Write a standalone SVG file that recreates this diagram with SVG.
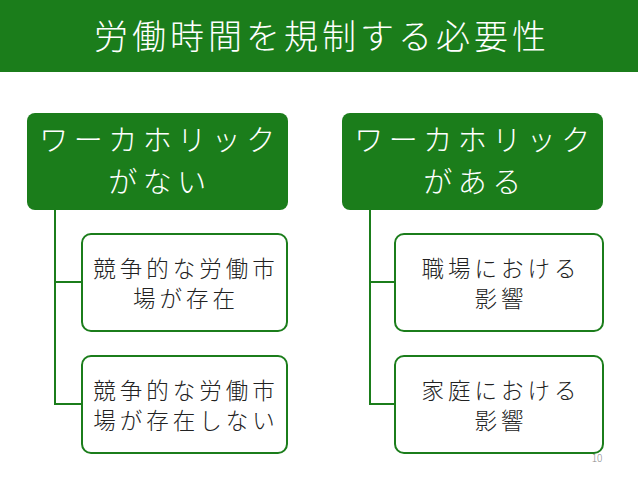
<svg xmlns="http://www.w3.org/2000/svg" width="638" height="479" viewBox="0 0 638 479">
<style>
text{font-family:"Noto Sans CJK JP","Noto Sans",sans-serif;font-weight:300;text-anchor:middle}
.t{fill:#fff;font-size:29px;letter-spacing:5.5px}
.c{fill:#222;font-size:22.5px;letter-spacing:4px}
.p{fill:#1b7d1b}
.w{fill:#fff;stroke:#1b7d1b;stroke-width:2}
.l{stroke:#1b7d1b;stroke-width:2;fill:none}
</style>
<rect width="638" height="479" fill="#fff"/>
<g id="title"><rect class="p" x="0" y="0" width="638" height="72"/><text class="t" x="322" y="49" style="font-size:34px;letter-spacing:4px">労働時間を規制する必要性</text></g>
<g id="connectors">
<path class="l" d="M55 210V404H82M55 282H82"/>
<path class="l" d="M370 210V404H395M370 282H395"/>
</g>
<g id="n1"><rect class="p" x="27" y="113" width="261" height="97" rx="8"/><text class="t" x="160" y="151">ワーカホリック</text><text class="t" x="160" y="193">がない</text></g>
<g id="n2"><rect class="p" x="342" y="113" width="261" height="97" rx="8"/><text class="t" x="475" y="151">ワーカホリック</text><text class="t" x="475" y="193">がある</text></g>
<g id="n3"><rect class="w" x="82" y="234" width="205" height="97" rx="9"/><text class="c" x="186" y="277">競争的な労働市</text><text class="c" x="186" y="307">場が存在</text></g>
<g id="n4"><rect class="w" x="82" y="356" width="205" height="97" rx="9"/><text class="c" x="186" y="399">競争的な労働市</text><text class="c" x="186" y="429">場が存在しない</text></g>
<g id="n5"><rect class="w" x="395" y="234" width="208" height="97" rx="9"/><text class="c" x="501" y="277">職場における</text><text class="c" x="501" y="307">影響</text></g>
<g id="n6"><rect class="w" x="395" y="356" width="208" height="97" rx="9"/><text class="c" x="501" y="399">家庭における</text><text class="c" x="501" y="429">影響</text></g>
<text x="597" y="462" style="font-size:10px;fill:#888">10</text>
</svg>
